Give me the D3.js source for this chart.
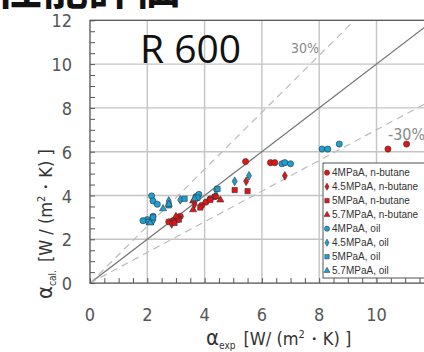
<!DOCTYPE html>
<html>
<head>
<meta charset="utf-8">
<script src="https://cdn.jsdelivr.net/npm/d3@7"></script>
<style>
  body { margin: 0; background: #fff; }
  svg { display: block; }
  .tick-lbl { font-family: "DejaVu Sans Condensed", "DejaVu Sans", sans-serif; font-stretch: condensed; font-size: 18px; fill: #555; }
  .leg { font-family: "Liberation Sans", sans-serif; font-size: 10px; fill: #333; }
  .ax { font-family: "DejaVu Sans Condensed", "DejaVu Sans", sans-serif; font-stretch: condensed; fill: #333; }
</style>
</head>
<body>
<svg id="chart" width="424" height="352"></svg>
<script>
// axis ticks
var xTicks = [0, 2, 4, 6, 8, 10, 12];
var yTicks = [0, 2, 4, 6, 8, 10, 12];

// series (alpha_exp, alpha_cal)
var butane4 = [[5.43,5.55],[6.3,5.5],[6.45,5.5],[10.4,6.12],[11.05,6.35],[2.75,2.8],[2.9,2.85],[3.05,3.0],[3.15,3.05],[3.9,3.55],[4.05,3.7],[4.2,3.85],[4.35,3.95]];
var butane45 = [[6.8,4.9],[5.45,4.65],[2.85,2.7],[3.1,2.95],[3.65,3.6],[4.4,4.0]];
var butane5 = [[5.05,4.25],[5.5,4.2],[2.95,2.75],[3.1,2.9],[3.85,3.45],[4.2,3.8]];
var butane57 = [[3.6,3.75],[3.6,3.35],[4.55,3.8],[4.4,3.95],[3.0,3.05]];
var oil4 = [[8.1,6.12],[8.3,6.12],[8.7,6.35],[6.7,5.45],[6.8,5.5],[7.0,5.45],[2.15,3.98],[2.2,3.75],[2.35,3.6],[3.7,3.95],[3.8,4.05],[2.0,2.9],[1.85,2.85],[2.2,3.05]];
var oil45 = [[5.05,4.65],[5.55,4.9],[2.75,3.75],[3.15,3.8],[2.2,2.85],[4.4,4.25]];
var oil5 = [[4.45,4.3],[3.3,3.85],[2.75,3.55],[3.75,3.9],[2.05,2.8],[2.2,3.0]];
var oil57 = [[2.55,3.4],[2.75,3.6],[2.1,2.75],[3.65,3.85]];

var seriesNames = ["4MPaA, n-butane","4.5MPaA, n-butane","5MPaA, n-butane","5.7MPaA, n-butane",
                   "4MPaA, oil","4.5MPaA, oil","5MPaA, oil","5.7MPaA, oil"];
var seriesData = [butane4, butane45, butane5, butane57, oil4, oil45, oil5, oil57];
var ratioLines = [1, 1.3, 0.7];

var red = "#e01616", blue = "#1aa0d6";
var colors = [red, red, red, red, blue, blue, blue, blue];
var shapes = [d3.symbolCircle, d3.symbolDiamond, d3.symbolSquare, d3.symbolTriangle,
              d3.symbolCircle, d3.symbolDiamond, d3.symbolSquare, d3.symbolTriangle];
var sizes = [30, 22, 28, 22, 30, 22, 28, 22];

var svg = d3.select("#chart");

var x = d3.scaleLinear().domain([0, 12]).range([90, 433.8]);
var y = d3.scaleLinear().domain([0, 12]).range([283.1, 20.3]);

// title (cropped at the top)
svg.append("text")
  .attr("x", -4).attr("y", 4)
  .style("font-family", "'Noto Sans CJK JP', sans-serif")
  .style("font-weight", "bold")
  .style("font-size", "46px")
  .style("fill", "#111")
  .text("性能評価");

svg.append("defs").append("clipPath").attr("id", "plot")
  .append("rect")
  .attr("x", x(0)).attr("y", y(12))
  .attr("width", x(12) - x(0)).attr("height", y(0) - y(12));

// grid
svg.append("g").selectAll("line.v")
  .data(xTicks.slice(1, -1))
  .enter().append("line")
  .attr("x1", function(d) { return x(d); }).attr("x2", function(d) { return x(d); })
  .attr("y1", y(0)).attr("y2", y(12))
  .attr("stroke", "#c4c4c4").attr("stroke-width", 1.4);

svg.append("g").selectAll("line.h")
  .data(yTicks.slice(1, -1))
  .enter().append("line")
  .attr("y1", function(d) { return y(d); }).attr("y2", function(d) { return y(d); })
  .attr("x1", x(0)).attr("x2", x(12))
  .attr("stroke", "#c4c4c4").attr("stroke-width", 1.4);

// minor ticks (inside)
svg.append("g")
  .attr("transform", "translate(0," + y(0) + ")")
  .call(d3.axisTop(x).ticks(24).tickSize(5).tickFormat(""))
  .call(function(g) { g.select(".domain").remove(); })
  .selectAll("line").attr("stroke", "#555");

svg.append("g")
  .attr("transform", "translate(" + x(0) + ",0)")
  .call(d3.axisRight(y).ticks(24).tickSize(5).tickFormat(""))
  .call(function(g) { g.select(".domain").remove(); })
  .selectAll("line").attr("stroke", "#555");

// ratio lines
svg.append("g").attr("clip-path", "url(#plot)")
  .selectAll("line")
  .data(ratioLines)
  .enter().append("line")
  .attr("x1", x(0)).attr("y1", y(0))
  .attr("x2", x(12)).attr("y2", function(d) { return y(12 * d); })
  .attr("stroke", function(d) { return d === 1 ? "#777" : "#bbb"; })
  .attr("stroke-width", function(d) { return d === 1 ? 1.3 : 1.2; })
  .attr("stroke-dasharray", function(d) { return d === 1 ? null : "7,5"; });

// plot border
svg.append("rect")
  .attr("x", x(0)).attr("y", y(12))
  .attr("width", x(12) - x(0)).attr("height", y(0) - y(12))
  .attr("fill", "none").attr("stroke", "#555").attr("stroke-width", 1.3);

// points
seriesData.forEach(function(data, i) {
  svg.append("g").selectAll("path")
    .data(data)
    .enter().append("path")
    .attr("d", d3.symbol().type(shapes[i]).size(sizes[i]))
    .attr("transform", function(d) { return "translate(" + x(d[0]) + "," + y(d[1]) + ")"; })
    .attr("fill", colors[i])
    .attr("stroke", "#333").attr("stroke-width", 0.6);
});

// tick labels
svg.append("g").selectAll("text")
  .data(xTicks.slice(0, -1))
  .enter().append("text")
  .attr("class", "tick-lbl")
  .attr("x", function(d) { return x(d); }).attr("y", 321)
  .attr("text-anchor", "middle")
  .text(function(d) { return d; });

svg.append("g").selectAll("text")
  .data(yTicks)
  .enter().append("text")
  .attr("class", "tick-lbl")
  .attr("x", 72).attr("y", function(d) { return y(d) + 7; })
  .attr("text-anchor", "end")
  .text(function(d) { return d; });

// R 600 label + percentage labels
svg.append("text")
  .attr("x", 140).attr("y", 63)
  .style("font-family", "'Open Sans', sans-serif")
  .style("font-size", "39px").style("fill", "#111")
  .text("R 600");

svg.append("text").attr("x", 291).attr("y", 53)
  .attr("class", "ax")
  .style("font-size", "14px").style("fill", "#888").text("30%");

svg.append("text").attr("x", 388).attr("y", 140)
  .attr("class", "ax")
  .style("font-size", "16px").style("fill", "#888").text("-30%");

// axis titles
var xl = svg.append("text")
  .attr("class", "ax")
  .attr("x", 206).attr("y", 345);
xl.append("tspan").style("font-size", "22px").text("α");
xl.append("tspan").style("font-size", "10px").attr("dy", 4).text("exp");
xl.append("tspan").style("font-size", "18px").attr("dy", -4).attr("dx", 8).text("[W/ (m");
xl.append("tspan").style("font-size", "11px").attr("dy", -7).text("2");
xl.append("tspan").style("font-size", "18px").attr("dy", 7).text("・K) ]");

var yl = svg.append("text")
  .attr("class", "ax")
  .attr("transform", "translate(52,299) rotate(-90)");
yl.append("tspan").style("font-size", "22px").text("α");
yl.append("tspan").style("font-size", "10px").attr("dy", 4).text("cal.");
yl.append("tspan").style("font-size", "18px").attr("dy", -4).attr("dx", 8).text("[W / (m");
yl.append("tspan").style("font-size", "11px").attr("dy", -7).text("2");
yl.append("tspan").style("font-size", "18px").attr("dy", 7).text("・K) ]");

// legend
var leg = svg.append("g");
leg.append("rect")
  .attr("x", 323).attr("y", 163).attr("width", 110).attr("height", 115)
  .attr("fill", "#fff").attr("stroke", "#555").attr("stroke-width", 1);

var ly = d3.scaleLinear().domain([0, 7]).range([172.7, 270.7]);
seriesNames.forEach(function(name, i) {
  leg.append("path")
    .attr("d", d3.symbol().type(shapes[i]).size(sizes[i] * 0.7))
    .attr("transform", "translate(327," + ly(i) + ")")
    .attr("fill", colors[i]).attr("stroke", "#333").attr("stroke-width", 0.5);
  leg.append("text")
    .attr("class", "leg")
    .attr("x", 332).attr("y", ly(i) + 3.5)
    .text(name);
});
</script>
</body>
</html>
